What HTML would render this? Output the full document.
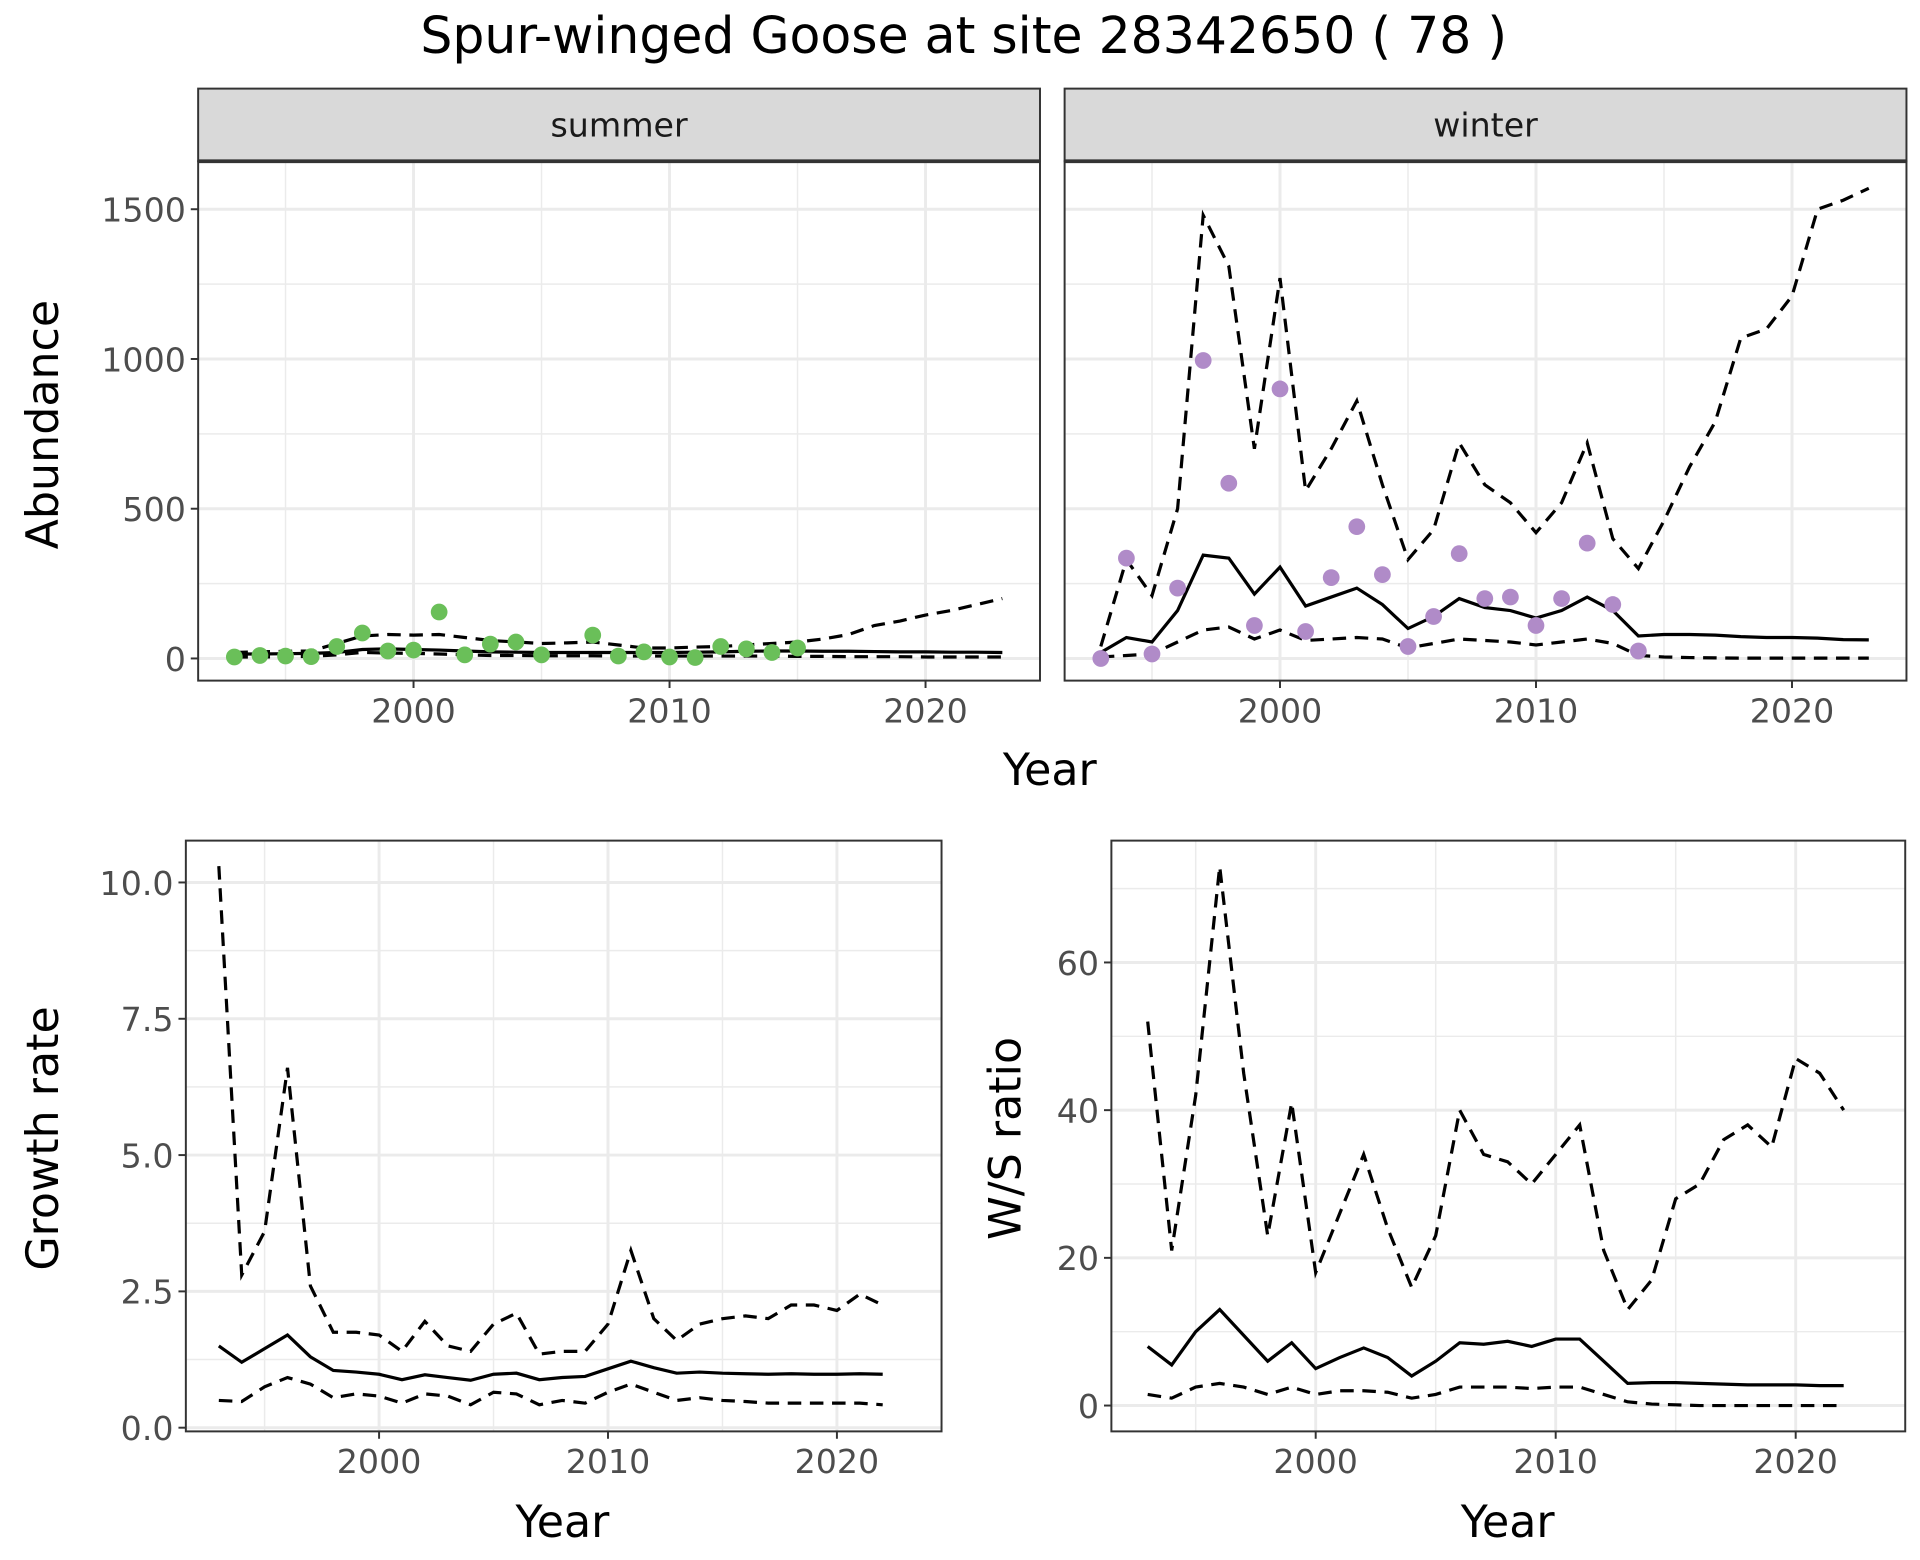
<!DOCTYPE html>
<html><head><meta charset="utf-8"><style>
html,body{margin:0;padding:0;background:#fff;}
svg{display:block;font-family:"DejaVu Sans","Liberation Sans",sans-serif;}
</style></head><body>
<svg id="chart" width="1920" height="1560" viewBox="0 0 1560 1267.5" xmlns="http://www.w3.org/2000/svg">
<rect width="1560" height="1267.5" fill="#fff"/>
<text x="783" y="43" font-size="41" text-anchor="middle" fill="#000">Spur-winged Goose at site 28342650 ( 78 )</text>
</svg>
<script>
// ---- data ----
const summerYears = [1993,1994,1995,1996,1997,1998,1999,2000,2001,2002,2003,2004,2005,2007,2008,2009,2010,2011,2012,2013,2014,2015];
const summerCounts = [5,10,8,6,40,85,25,28,155,12,48,55,12,78,8,22,5,3,40,32,20,35];
const winterYears = [1993,1994,1995,1996,1997,1998,1999,2000,2001,2002,2003,2004,2005,2006,2007,2008,2009,2010,2011,2012,2013,2014];
const winterCounts = [0,335,15,235,995,585,110,900,90,270,440,280,40,140,350,200,205,110,200,385,180,25];
const trendYears = [1993,1994,1995,1996,1997,1998,1999,2000,2001,2002,2003,2004,2005,2006,2007,2008,2009,2010,2011,2012,2013,2014,2015,2016,2017,2018,2019,2020,2021,2022,2023];
const summerFit = [15,15,16,17,20,30,32,30,28,25,22,21,20,20,20,20,20,20,21,22,24,25,25,24,24,23,22,22,21,21,20];
const summerUpper = [20,22,24,25,50,75,80,78,80,70,60,55,50,52,55,45,35,35,38,40,45,50,55,65,80,110,125,145,160,180,200];
const summerLower = [5,5,6,7,12,20,18,17,15,12,10,10,9,9,9,8,8,8,8,8,8,8,7,7,6,6,6,5,5,5,5];
const winterFit = [20,70,55,160,345,335,215,305,175,205,235,180,100,140,200,170,160,135,160,205,160,75,80,80,78,73,70,70,68,63,62];
const winterUpper = [40,330,210,500,1480,1310,700,1270,560,700,860,580,330,430,720,580,520,420,520,720,400,300,460,640,790,1070,1100,1210,1500,1530,1570];
const winterLower = [5,10,15,55,95,105,65,95,60,65,70,65,35,50,65,60,55,45,55,65,50,10,5,3,2,1,1,1,1,1,1];
const rateYears = [1993,1994,1995,1996,1997,1998,1999,2000,2001,2002,2003,2004,2005,2006,2007,2008,2009,2010,2011,2012,2013,2014,2015,2016,2017,2018,2019,2020,2021,2022];
const growthFit = [1.5,1.2,1.45,1.7,1.3,1.05,1.02,0.98,0.88,0.97,0.92,0.87,0.98,1.0,0.88,0.92,0.94,1.08,1.22,1.1,1.0,1.02,1.0,0.99,0.98,0.99,0.98,0.98,0.99,0.98];
const growthUpper = [10.3,2.8,3.6,6.6,2.6,1.75,1.75,1.7,1.4,1.95,1.5,1.4,1.9,2.1,1.35,1.4,1.4,1.9,3.25,2.0,1.6,1.9,2.0,2.05,2.0,2.25,2.25,2.15,2.45,2.25];
const growthLower = [0.5,0.48,0.75,0.92,0.8,0.55,0.62,0.58,0.45,0.62,0.58,0.42,0.65,0.62,0.42,0.5,0.45,0.65,0.8,0.65,0.5,0.55,0.5,0.48,0.45,0.45,0.45,0.45,0.45,0.42];
const ratioFit = [8,5.5,10,13,9.5,6,8.5,5,6.5,7.8,6.5,4,6,8.5,8.3,8.7,8,9,9,6,3,3.1,3.1,3,2.9,2.8,2.8,2.8,2.7,2.7];
const ratioUpper = [52,21,42,73,45,23,41,18,26,34,24,16,23,40,34,33,30,34,38,21,13,17,28,30,36,38,35,47,45,40];
const ratioLower = [1.5,1,2.5,3,2.5,1.5,2.5,1.5,2,2,1.8,1,1.5,2.5,2.5,2.5,2.3,2.5,2.5,1.5,0.5,0.2,0.1,0,0,0,0,0,0,0];
const abundanceTicks = [0,500,1000,1500];
const growthTicks = [0,2.5,5,7.5,10];
const growthTickLabels = ["0.0","2.5","5.0","7.5","10.0"];
const ratioTicks = [0,20,40,60];
const yearTicks = [2000,2010,2020];

const NS="http://www.w3.org/2000/svg";
const svg=document.getElementById('chart');
function mk(tag,attrs,parent){const e=document.createElementNS(NS,tag);for(const k in attrs)e.setAttribute(k,attrs[k]);(parent||svg).appendChild(e);return e;}
function txt(s,attrs,parent){const e=mk('text',attrs,parent);e.textContent=s;return e;}

function panel(o){
  const g=mk('g',{});
  
  
  const sx=v=>o.x0+(v-2000)*o.px;
  const sy=v=>o.y0-(v)*o.py;
  for(const yr of [1995,2005,2015]){mk('line',{x1:sx(yr),x2:sx(yr),y1:o.top,y2:o.bottom,stroke:'#ebebeb','stroke-width':1.2},g);}
  for(let i=0;i<o.yticks.length-1;i++){const v=(o.yticks[i]+o.yticks[i+1])/2;mk('line',{x1:o.left,x2:o.right,y1:sy(v),y2:sy(v),stroke:'#ebebeb','stroke-width':1.2},g);}
  if(o.extraMinor){const v=o.extraMinor;if(sy(v)>o.top)mk('line',{x1:o.left,x2:o.right,y1:sy(v),y2:sy(v),stroke:'#ebebeb','stroke-width':1.2},g);}
  for(const yr of yearTicks){mk('line',{x1:sx(yr),x2:sx(yr),y1:o.top,y2:o.bottom,stroke:'#ebebeb','stroke-width':2.4},g);}
  o.yticks.forEach(v=>{mk('line',{x1:o.left,x2:o.right,y1:sy(v),y2:sy(v),stroke:'#ebebeb','stroke-width':2.4},g);});
  const line=(ys,dash,nm)=>{const p=mk('polyline',{points:o.tx.map((t,i)=>sx(t)+','+sy(ys[i])).join(' '),fill:'none',stroke:'#000','stroke-width':2.6,'stroke-dasharray':dash||'none'},g);};
  line(o.upper,'11,7','upper-bound-line');
  line(o.lower,'11,7','lower-bound-line');
  line(o.fit,null,'fitted-trend-line');
  if(o.px_){o.px_.forEach((t,i)=>{const c=mk('circle',{cx:sx(t),cy:sy(o.py_[i]),r:6.8,fill:o.color},g);});}
  mk('rect',{x:o.left,y:o.top,width:o.right-o.left,height:o.bottom-o.top,fill:'none',stroke:'#333','stroke-width':1.6},g);
  for(const yr of yearTicks){mk('line',{x1:sx(yr),x2:sx(yr),y1:o.bottom,y2:o.bottom+6,stroke:'#333','stroke-width':1.6},g);
    const t=txt(String(yr),{x:sx(yr),y:o.bottom+34,'font-size':27,'text-anchor':'middle',fill:'#4d4d4d'},g);}
  if(o.showY){o.yticks.forEach((v,i)=>{mk('line',{x1:o.left-6,x2:o.left,y1:sy(v),y2:sy(v),stroke:'#333','stroke-width':1.6},g);
    const t=txt(o.ylabels[i],{x:o.left-10,y:sy(v)+10,'font-size':27,'text-anchor':'end',fill:'#4d4d4d'},g);});}
  if(o.strip){const r=mk('rect',{x:o.left,y:72,width:o.right-o.left,height:o.top-72,fill:'#d9d9d9',stroke:'#333','stroke-width':1.6},g);
    mk('line',{x1:o.left,x2:o.right,y1:o.top,y2:o.top,stroke:'#333','stroke-width':3},g);
    const t=txt(o.strip,{x:(o.left+o.right)/2,y:111,'font-size':27,'text-anchor':'middle',fill:'#1a1a1a'},g);}
}

panel({name:'summer-panel',left:161,right:845,top:131,bottom:553,x0:336,px:20.8,y0:535,py:365/1500,yticks:abundanceTicks,ylabels:abundanceTicks.map(String),showY:true,
  tx:trendYears,fit:summerFit,upper:summerUpper,lower:summerLower,px_:summerYears,py_:summerCounts,color:'#6abf59',strip:'summer'});
panel({name:'winter-panel',left:865,right:1549,top:131,bottom:553,x0:1040,px:20.8,y0:535,py:365/1500,yticks:abundanceTicks,ylabels:abundanceTicks.map(String),showY:false,
  tx:trendYears,fit:winterFit,upper:winterUpper,lower:winterLower,px_:winterYears,py_:winterCounts,color:'#b08bc8',strip:'winter'});
panel({name:'growth-rate-panel',left:151,right:765,top:683,bottom:1163,x0:308,px:18.6,y0:1160,py:443/10,yticks:growthTicks,ylabels:growthTickLabels,showY:true,
  tx:rateYears,fit:growthFit,upper:growthUpper,lower:growthLower});
panel({name:'ws-ratio-panel',left:903,right:1548,top:683,bottom:1163,x0:1069,px:19.5,y0:1142,py:6,yticks:ratioTicks,ylabels:ratioTicks.map(String),showY:true,extraMinor:70,
  tx:rateYears,fit:ratioFit,upper:ratioUpper,lower:ratioLower});

const labs=[['x-axis-title-top','Year',853,638,0],['x-axis-title-growth','Year',457,1249,0],['x-axis-title-ratio','Year',1225,1249,0],
 ['y-axis-title-abundance','Abundance',47,345,-90],['y-axis-title-growth','Growth rate',47,925,-90],['y-axis-title-ratio','W/S ratio',829,925,-90]];
labs.forEach(([n,s,x,y,r])=>{const t=txt(s,{x:x,y:y,'font-size':36,'text-anchor':'middle',fill:'#000',transform:r?`rotate(${r} ${x} ${y})`:''});
 
 });
</script>
</body></html>
